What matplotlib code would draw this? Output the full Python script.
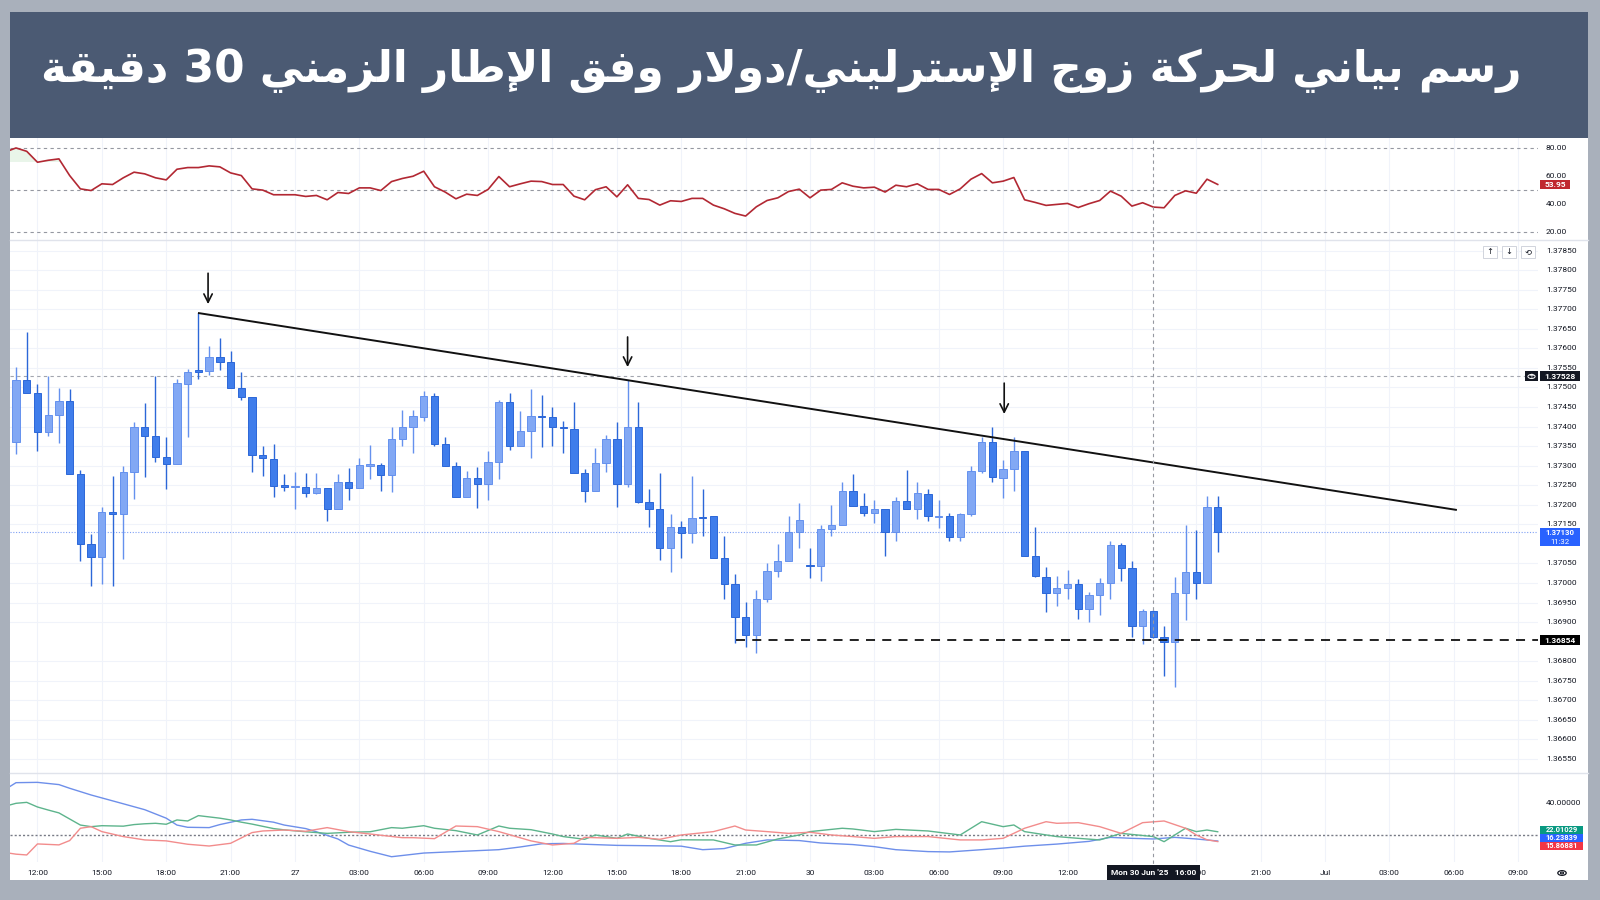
import re
import numpy as np
import matplotlib
matplotlib.use("Agg")
import matplotlib.pyplot as plt
from matplotlib.patches import Rectangle, Circle
from matplotlib.lines import Line2D

plt.rcParams['font.family'] = ['Roboto', 'DejaVu Sans']

# ---------------- data ----------------
TITLE = "رسم بياني لحركة زوج الإسترليني/دولار وفق الإطار الزمني 30 دقيقة"

opens = [1.37360, 1.37519, 1.37487, 1.37385, 1.37430, 1.37466, 1.37278, 1.37099, 1.37067, 1.37182,
         1.37177, 1.37285, 1.37400, 1.37377, 1.37321, 1.37304, 1.37510, 1.37544, 1.37542, 1.37579,
         1.37566, 1.37499, 1.37476, 1.37326, 1.37317, 1.37250, 1.37245, 1.37246, 1.37229, 1.37244,
         1.37189, 1.37257, 1.37244, 1.37300, 1.37302, 1.37276, 1.37367, 1.37399, 1.37425, 1.37478,
         1.37355, 1.37299, 1.37221, 1.37268, 1.37252, 1.37310, 1.37464, 1.37349, 1.37389, 1.37428,
         1.37425, 1.37398, 1.37394, 1.37282, 1.37234, 1.37308, 1.37367, 1.37253, 1.37400, 1.37206,
         1.37190, 1.37090, 1.37144, 1.37129, 1.37168, 1.37170, 1.37065, 1.36998, 1.36914, 1.36866,
         1.36958, 1.37031, 1.37057, 1.37130, 1.37047, 1.37044, 1.37138, 1.37148, 1.37235, 1.37198,
         1.37178, 1.37189, 1.37131, 1.37210, 1.37190, 1.37228, 1.37169, 1.37170, 1.37117, 1.37176,
         1.37287, 1.37361, 1.37269, 1.37292, 1.37338, 1.37069, 1.37016, 1.36975, 1.36986, 1.36997,
         1.36934, 1.36969, 1.37001, 1.37097, 1.37039, 1.36891, 1.36927, 1.36861, 1.36849, 1.36974,
         1.37029, 1.36999, 1.37193]
highs = [1.37553, 1.37641, 1.37508, 1.37528, 1.37498, 1.37496, 1.37289, 1.37125, 1.37195, 1.37274,
         1.37300, 1.37411, 1.37459, 1.37528, 1.37372, 1.37521, 1.37547, 1.37691, 1.37607, 1.37626,
         1.37594, 1.37539, 1.37476, 1.37349, 1.37355, 1.37278, 1.37283, 1.37280, 1.37280, 1.37244,
         1.37278, 1.37295, 1.37320, 1.37353, 1.37306, 1.37400, 1.37442, 1.37441, 1.37492, 1.37487,
         1.37372, 1.37309, 1.37286, 1.37296, 1.37338, 1.37468, 1.37487, 1.37440, 1.37496, 1.37481,
         1.37451, 1.37414, 1.37462, 1.37292, 1.37344, 1.37378, 1.37411, 1.37519, 1.37462, 1.37241,
         1.37281, 1.37176, 1.37159, 1.37274, 1.37240, 1.37170, 1.37119, 1.37022, 1.36951, 1.36982,
         1.37052, 1.37100, 1.37170, 1.37204, 1.37090, 1.37147, 1.37199, 1.37257, 1.37278, 1.37229,
         1.37212, 1.37189, 1.37221, 1.37289, 1.37259, 1.37240, 1.37211, 1.37180, 1.37180, 1.37298,
         1.37374, 1.37398, 1.37315, 1.37372, 1.37338, 1.37142, 1.37042, 1.37018, 1.37032, 1.37010,
         1.36978, 1.37012, 1.37108, 1.37102, 1.37057, 1.36933, 1.36931, 1.36889, 1.37016, 1.37147,
         1.37136, 1.37223, 1.37223]
lows = [1.37330, 1.37485, 1.37338, 1.37377, 1.37359, 1.37278, 1.37057, 1.36991, 1.36998, 1.36991,
        1.37061, 1.37214, 1.37272, 1.37309, 1.37240, 1.37304, 1.37372, 1.37521, 1.37533, 1.37545,
        1.37499, 1.37468, 1.37285, 1.37274, 1.37221, 1.37234, 1.37189, 1.37221, 1.37228, 1.37159,
        1.37189, 1.37212, 1.37244, 1.37265, 1.37234, 1.37232, 1.37350, 1.37333, 1.37415, 1.37349,
        1.37299, 1.37221, 1.37221, 1.37191, 1.37212, 1.37265, 1.37340, 1.37349, 1.37319, 1.37347,
        1.37350, 1.37333, 1.37282, 1.37206, 1.37234, 1.37285, 1.37195, 1.37246, 1.37204, 1.37143,
        1.37059, 1.37027, 1.37063, 1.37102, 1.37121, 1.37065, 1.36958, 1.36846, 1.36837, 1.36822,
        1.36952, 1.37015, 1.37055, 1.37089, 1.37012, 1.37005, 1.37119, 1.37148, 1.37198, 1.37170,
        1.37154, 1.37070, 1.37107, 1.37189, 1.37163, 1.37159, 1.37140, 1.37106, 1.37107, 1.37171,
        1.37282, 1.37259, 1.37217, 1.37236, 1.37069, 1.37014, 1.36925, 1.36942, 1.36959, 1.36908,
        1.36900, 1.36917, 1.36958, 1.37005, 1.36863, 1.36843, 1.36859, 1.36762, 1.36734, 1.36906,
        1.36958, 1.36999, 1.37080]
closes = [1.37519, 1.37487, 1.37385, 1.37430, 1.37466, 1.37278, 1.37099, 1.37067, 1.37182, 1.37177,
          1.37285, 1.37400, 1.37377, 1.37321, 1.37304, 1.37512, 1.37539, 1.37540, 1.37579, 1.37566,
          1.37499, 1.37476, 1.37326, 1.37319, 1.37249, 1.37246, 1.37247, 1.37231, 1.37244, 1.37189,
          1.37257, 1.37244, 1.37302, 1.37303, 1.37276, 1.37367, 1.37399, 1.37427, 1.37478, 1.37355,
          1.37299, 1.37221, 1.37268, 1.37252, 1.37310, 1.37464, 1.37349, 1.37389, 1.37427, 1.37425,
          1.37398, 1.37395, 1.37282, 1.37234, 1.37308, 1.37367, 1.37253, 1.37400, 1.37206, 1.37190,
          1.37090, 1.37144, 1.37129, 1.37166, 1.37166, 1.37065, 1.36998, 1.36914, 1.36866, 1.36958,
          1.37031, 1.37056, 1.37130, 1.37161, 1.37044, 1.37138, 1.37147, 1.37235, 1.37198, 1.37178,
          1.37189, 1.37131, 1.37210, 1.37189, 1.37229, 1.37170, 1.37171, 1.37117, 1.37177, 1.37287,
          1.37361, 1.37270, 1.37292, 1.37338, 1.37069, 1.37018, 1.36975, 1.36986, 1.36998, 1.36934,
          1.36970, 1.37001, 1.37097, 1.37039, 1.36891, 1.36927, 1.36861, 1.36849, 1.36974, 1.37029,
          1.36999, 1.37193, 1.37130]

# RSI, starting one bar before the first visible candle
rsi = [77.1,
       80.0, 77.6, 69.8, 71.2, 72.2, 60.3, 50.8, 49.6, 54.4, 53.9,
       58.7, 62.7, 61.5, 58.7, 57.2, 64.8, 66.0, 66.0, 67.2, 66.5,
       62.2, 60.3, 50.8, 49.9, 46.6, 46.6, 46.6, 45.4, 46.1, 43.0,
       48.2, 47.5, 51.5, 51.5, 49.6, 56.0, 58.2, 59.8, 63.4, 52.3,
       48.5, 43.7, 47.0, 46.1, 50.4, 59.6, 52.3, 54.4, 56.3, 56.0,
       53.9, 53.9, 45.6, 43.0, 50.2, 52.3, 45.1, 53.7, 44.0, 43.2,
       39.2, 42.3, 41.8, 44.0, 44.0, 39.2, 36.6, 33.3, 31.4, 38.0,
       42.5, 44.4, 48.9, 50.6, 44.4, 49.9, 50.4, 55.1, 52.7, 51.5,
       52.0, 48.5, 53.4, 52.3, 54.4, 50.4, 50.4, 46.8, 50.8, 57.7,
       61.7, 55.1, 56.3, 58.9, 43.0, 41.1, 39.0, 39.7, 40.4, 37.5,
       40.2, 42.5, 49.2, 45.6, 38.5, 40.9, 37.8, 37.3, 46.1, 49.4,
       47.7, 57.7, 53.95]

# DMI / ADX lines (bar index, value)
blue_x = [-1, 0, 2, 4, 5, 7, 10, 12, 14, 15, 16, 18, 19, 21, 22, 24, 25, 27, 28, 30,
          31, 33, 35, 38, 41, 45, 47, 49, 51, 53, 56, 60, 62, 64, 66, 68, 70, 73, 75, 78,
          80, 82, 85, 87, 90, 92, 94, 97, 100, 102, 104, 106, 108, 110, 112]
blue_y = [48.5, 52.7, 52.9, 51.5, 49.2, 45.0, 39.5, 35.8, 30.5, 26.2, 24.8, 24.6, 26.5, 29.4, 29.8, 28.0, 26.2, 24.0, 22.0, 17.5,
          13.7, 9.8, 6.4, 8.7, 9.6, 10.8, 12.5, 14.5, 14.7, 14.2, 13.5, 13.2, 13.0, 10.8, 11.5, 14.8, 16.9, 16.5, 15.0, 14.0,
          12.7, 10.8, 9.6, 9.4, 10.8, 11.8, 13.0, 14.3, 16.0, 18.5, 17.9, 17.5, 18.5, 17.5, 16.23839]
red_x = [-1, 0, 1, 2, 4, 5, 6, 7, 8, 10, 12, 14, 16, 18, 20, 22, 23, 25, 27, 29,
         31, 33, 36, 37, 39, 41, 43, 45, 48, 50, 52, 53, 56, 58, 60, 62, 65, 67, 68, 70,
         72, 74, 76, 78, 80, 82, 85, 88, 90, 92, 94, 96, 97, 99, 101, 103, 105, 107, 109, 110,
         111, 112]
red_y = [9.0, 8.0, 7.5, 14.4, 13.8, 16.5, 24.2, 25.2, 22.1, 19.0, 16.9, 16.3, 14.2, 13.1, 14.8, 21.5, 22.5, 23.1, 22.3, 24.6,
         22.1, 20.6, 18.3, 18.3, 17.7, 25.6, 25.2, 22.1, 16.3, 13.75, 14.8, 18.5, 17.9, 18.5, 17.3, 20.0, 22.1, 25.6, 23.1, 22.1,
         21.0, 21.7, 20.0, 19.0, 17.9, 19.0, 19.0, 16.9, 16.9, 17.9, 24.2, 28.3, 27.3, 27.7, 25.2, 21.0, 27.7, 28.75, 24.2, 20.0,
         17.0, 15.86881]
green_x = [-1, 0, 1, 2, 3, 4, 5, 6, 7, 8, 10, 11, 12, 13, 14, 15, 16, 17, 18, 19,
           20, 21, 22, 24, 25, 27, 29, 31, 33, 35, 36, 38, 39, 41, 43, 45, 46, 48, 50, 51,
           53, 54, 56, 57, 59, 61, 62, 64, 65, 67, 69, 71, 73, 74, 77, 78, 80, 82, 85, 88,
           90, 92, 93, 94, 97, 99, 101, 103, 106, 107, 109, 110, 111, 112]
green_y = [38.0, 39.8, 40.4, 37.5, 35.6, 33.8, 30.0, 26.2, 25.2, 25.8, 25.5, 26.5, 27.0, 27.3, 26.7, 29.4, 28.75, 32.1, 31.3, 30.5,
           29.4, 28.0, 26.8, 24.0, 23.2, 22.0, 21.0, 21.7, 22.0, 24.6, 24.2, 25.8, 24.2, 22.7, 20.0, 25.6, 24.2, 23.3, 20.6, 19.0,
           17.3, 20.0, 17.9, 20.6, 17.9, 15.8, 17.0, 16.9, 16.9, 13.75, 13.75, 17.5, 20.0, 22.1, 24.2, 23.75, 22.1, 23.5, 22.5, 20.0,
           28.3, 25.2, 26.25, 22.1, 19.0, 17.9, 16.9, 21.0, 19.0, 15.8, 24.2, 22.1, 23.1, 22.01029]

# time-axis labels visible in the reference (15:00 on the 30th sits under the crosshair tag)
time_tick_idx = [2, 8, 14, 20, 26, 32, 38, 44, 50, 56, 62, 68, 74, 80, 86, 92, 98, 110, 116, 122, 128, 134, 140]
time_tick_lbl = ['12:00', '15:00', '18:00', '21:00', '27', '03:00', '06:00', '09:00', '12:00', '15:00', '18:00',
                 '21:00', '30', '03:00', '06:00', '09:00', '12:00', '18:00', '21:00', 'Jul', '03:00',
                 '06:00', '09:00']
grid_idx = [2, 8, 14, 20, 26, 32, 38, 44, 50, 56, 62, 68, 74, 80, 86, 92, 98, 104, 110, 116, 122, 128, 134, 140]
price_ticks = [1.37850, 1.37800, 1.37750, 1.37700, 1.37650, 1.37600, 1.37550, 1.37500, 1.37450, 1.37400,
               1.37350, 1.37300, 1.37250, 1.37200, 1.37150, 1.37050, 1.37000, 1.36950, 1.36900,
               1.36800, 1.36750, 1.36700, 1.36650, 1.36600, 1.36550]
rsi_ticks = [80, 60, 40, 20]
rsi_levels = [80, 50, 20]

trend_x = [17.05, 134.2]
trend_y = [1.37690, 1.37187]
arrow_x = [17.9, 57.0, 92.1]
arrow_top = [1.37792, 1.37629, 1.37511]
arrow_tip = [1.37713, 1.37552, 1.37432]
support_level = 1.36854
support_start = 67.1
resist_level = 1.37528
last_price = 1.37130
last_time_left = "11:32"
crosshair_idx = 106
crosshair_lbl = "Mon 30 Jun '25   16:00"
rsi_last = 53.95
adx_labels = [(22.01029, '#089981'), (16.23839, '#2962FF'), (15.86881, '#F23645')]

# ---------------- helpers ----------------
W, H = 1600, 900
fig = plt.figure(figsize=(16, 9), dpi=100, facecolor='#A9B0BB')


def rect(x0, y0, x1, y1):
    return [x0 / W, 1 - y1 / H, (x1 - x0) / W, (y1 - y0) / H]


def fig_rect(x0, y0, x1, y1, **kw):
    r = Rectangle((x0 / W, 1 - y1 / H), (x1 - x0) / W, (y1 - y0) / H,
                  transform=fig.transFigure, **kw)
    fig.add_artist(r)
    return r


def fig_text(x, y, s, **kw):
    return fig.text(x / W, 1 - y / H, s, **kw)


def fig_line(xs, ys, **kw):
    l = Line2D([x / W for x in xs], [1 - y / H for y in ys], transform=fig.transFigure, **kw)
    fig.add_artist(l)
    return l


def ypix(axis, v):
    return H - axis.transData.transform((0, v))[1]


def xpix(axis, v):
    return axis.transData.transform((v, 0))[0]


# Arabic shaping (contextual forms) so the title renders in joined script
FORMS = {
    '\u0627': ('\uFE8D', '\uFE8E', None, None), '\u0625': ('\uFE87', '\uFE88', None, None),
    '\u0628': ('\uFE8F', '\uFE90', '\uFE91', '\uFE92'), '\u0629': ('\uFE93', '\uFE94', None, None),
    '\u062A': ('\uFE95', '\uFE96', '\uFE97', '\uFE98'), '\u062C': ('\uFE9D', '\uFE9E', '\uFE9F', '\uFEA0'),
    '\u062D': ('\uFEA1', '\uFEA2', '\uFEA3', '\uFEA4'), '\u062F': ('\uFEA9', '\uFEAA', None, None),
    '\u0631': ('\uFEAD', '\uFEAE', None, None), '\u0632': ('\uFEAF', '\uFEB0', None, None),
    '\u0633': ('\uFEB1', '\uFEB2', '\uFEB3', '\uFEB4'), '\u0637': ('\uFEC1', '\uFEC2', '\uFEC3', '\uFEC4'),
    '\u0641': ('\uFED1', '\uFED2', '\uFED3', '\uFED4'), '\u0642': ('\uFED5', '\uFED6', '\uFED7', '\uFED8'),
    '\u0643': ('\uFED9', '\uFEDA', '\uFEDB', '\uFEDC'), '\u0644': ('\uFEDD', '\uFEDE', '\uFEDF', '\uFEE0'),
    '\u0645': ('\uFEE1', '\uFEE2', '\uFEE3', '\uFEE4'), '\u0646': ('\uFEE5', '\uFEE6', '\uFEE7', '\uFEE8'),
    '\u0648': ('\uFEED', '\uFEEE', None, None), '\u064A': ('\uFEF1', '\uFEF2', '\uFEF3', '\uFEF4'),
    'LA': ('\uFEFB', '\uFEFC', None, None), 'LAH': ('\uFEF9', '\uFEFA', None, None),
}


def shape_arabic(text):
    units, i = [], 0
    while i < len(text):
        c = text[i]
        if c == '\u0644' and i + 1 < len(text) and text[i + 1] in ('\u0627', '\u0625'):
            units.append('LA' if text[i + 1] == '\u0627' else 'LAH')
            i += 2
        else:
            units.append(c)
            i += 1
    out = []
    for k, u in enumerate(units):
        if u not in FORMS:
            out.append(u)
            continue
        iso, fin, ini, med = FORMS[u]
        prev = units[k - 1] if k > 0 else None
        nxt = units[k + 1] if k + 1 < len(units) else None
        jp = prev in FORMS and FORMS[prev][2] is not None
        jn = ini is not None and nxt in FORMS
        out.append(med if (jp and jn) else fin if jp else ini if jn else iso)
    vis = ''.join(out)[::-1]
    return re.sub(r'[0-9]+', lambda m: m.group(0)[::-1], vis)


# ---------------- frame ----------------
fig_rect(10, 12, 1588, 880, facecolor='white', edgecolor='none', zorder=-5)
fig_rect(10, 12, 1588, 138, facecolor='#4B5A73', edgecolor='none', zorder=-4)
fig_text(781, 71, shape_arabic(TITLE), color='white', fontsize=31.5, ha='center', va='center',
         family=['DejaVu Sans'], weight='bold')

XL = (-0.56, 141.85)
ax_rsi = fig.add_axes(rect(10, 138, 1538, 240))
ax = fig.add_axes(rect(10, 240, 1538, 773))
ax_adx = fig.add_axes(rect(10, 773, 1538, 862))
for a in (ax_rsi, ax, ax_adx):
    a.set_xlim(*XL)
    a.set_facecolor('none')
    for s in a.spines.values():
        s.set_visible(False)
    a.set_xticks([])
    a.set_yticks([])
    for t in grid_idx:
        a.axvline(t, color='#F0F3FA', lw=0.8, zorder=0)
ax_rsi.set_ylim(14.3, 87.1)
ax.set_ylim(1.36514, 1.37877)
ax_adx.set_ylim(3.1, 58.75)

fig_line([10, 1588], [240, 240], color='#E0E3EB', lw=1.0)
fig_line([10, 1588], [773, 773], color='#E0E3EB', lw=1.0)

LBL = dict(fontsize=6, color='#131722', va='center', ha='left')

# ---------------- RSI ----------------
rx = np.arange(-1, len(rsi) - 1)
rv = np.array(rsi)
for lv in rsi_levels:
    ax_rsi.axhline(lv, color='#9598A1', lw=0.8, ls=(0, (3, 3)), zorder=1)
ax_rsi.fill_between(rx, rv, 70, where=rv > 70, interpolate=True, color='#4CAF50', alpha=0.12, lw=0)
ax_rsi.plot(rx, rv, color='#B22833', lw=1.2, zorder=3)
for t in rsi_ticks:
    fig_text(1546, ypix(ax_rsi, t), f"{t:.2f}", **LBL)
yy = ypix(ax_rsi, rsi_last)
fig_rect(1540, yy - 4.5, 1570, yy + 4.5, facecolor='#C0282F', edgecolor='none', zorder=3)
fig_text(1555, yy, f"{rsi_last:.2f}", fontsize=6, color='white', ha='center', va='center', weight='bold',
         zorder=4)

# ---------------- main candles ----------------
O, Hh, L, C = map(np.array, (opens, highs, lows, closes))
x = np.arange(len(O))
up = C >= O
bot = np.minimum(O, C)
bh = np.maximum(np.abs(C - O), 1.6e-5)
UP_FILL, UP_EDGE = '#82A8F4', '#6591EE'
DN_FILL, DN_EDGE = '#3F7DEB', '#2C67D8'
for p in price_ticks:
    ax.axhline(p, color='#F0F3FA', lw=0.8, zorder=0)
ax.vlines(x[up], L[up], Hh[up], color=UP_EDGE, lw=1.0, zorder=2)
ax.vlines(x[~up], L[~up], Hh[~up], color=DN_EDGE, lw=1.0, zorder=2)
ax.bar(x[up], bh[up], bottom=bot[up], width=0.68, color=UP_FILL, edgecolor=UP_EDGE, lw=0.7, zorder=3)
ax.bar(x[~up], bh[~up], bottom=bot[~up], width=0.68, color=DN_FILL, edgecolor=DN_EDGE, lw=0.7, zorder=3)

ax.axhline(resist_level, color='#A3A6AF', lw=0.8, ls=(0, (3, 3)), zorder=1)
ax.axhline(last_price, color='#7FA0F5', lw=0.8, ls=(0, (1, 1.5)), zorder=1)
ax.plot(trend_x, trend_y, color='#111111', lw=1.4, zorder=4)
ax.plot([support_start, XL[1]], [support_level, support_level], color='#111111', lw=1.3,
        ls=(0, (5, 4)), zorder=4)
for ax_i, top, tip in zip(arrow_x, arrow_top, arrow_tip):
    ax.annotate('', xy=(ax_i, tip), xytext=(ax_i, top),
                arrowprops=dict(arrowstyle='->,head_length=0.6,head_width=0.3', color='#111111',
                                lw=1.2, shrinkA=0, shrinkB=0), zorder=5)

for p in price_ticks:
    fig_text(1546, ypix(ax, p), f"{p:.5f}", **LBL)

# price-axis tags
yy = ypix(ax, resist_level)
fig_rect(1540, yy - 5, 1580, yy + 5, facecolor='#131722', edgecolor='none', zorder=3)
fig_text(1560, yy, f"{resist_level:.5f}", fontsize=6, color='white', ha='center', va='center',
         weight='bold', zorder=4)
fig_rect(1525, yy - 5, 1538, yy + 5, facecolor='#131722', edgecolor='none', zorder=3)
fig.add_artist(Circle((1531.5 / W, 1 - yy / H), 3.6 / W, transform=fig.transFigure, fill=False,
                      ec='white', lw=0.7, zorder=4))
fig_text(1531.5, yy, '+', fontsize=5, color='white', ha='center', va='center', zorder=5,
         family=['DejaVu Sans'])

yy = ypix(ax, last_price)
fig_rect(1540, yy - 4.5, 1580, yy + 14, facecolor='#2962FF', edgecolor='none', zorder=3)
fig_text(1560, yy + 0.5, f"{last_price:.5f}", fontsize=5.6, color='white', ha='center', va='center',
         weight='bold', zorder=4)
fig_text(1560, yy + 9.5, last_time_left, fontsize=5.6, color='white', ha='center', va='center', zorder=4)

yy = ypix(ax, support_level)
fig_rect(1540, yy - 5, 1580, yy + 5, facecolor='#000000', edgecolor='none', zorder=3)
fig_text(1560, yy, f"{support_level:.5f}", fontsize=6, color='white', ha='center', va='center',
         weight='bold', zorder=4)

# small toolbar buttons
for bx, sym in zip((1490, 1509, 1528), ('↑', '↓', '⟲')):
    fig_rect(bx - 7, 246, bx + 7, 258, facecolor='white', edgecolor='#D1D4DC', lw=0.7)
    fig_text(bx, 252, sym, fontsize=6, color='#131722', ha='center', va='center', family=['DejaVu Sans'])

# ---------------- ADX / DMI ----------------
ax_adx.axhline(20, color='#787B86', lw=1.0, ls=(0, (1.5, 1.5)), zorder=1)
ax_adx.plot(blue_x, blue_y, color='#6E8FEA', lw=1.0, zorder=3)
ax_adx.plot(green_x, green_y, color='#5DB48C', lw=1.0, zorder=3)
ax_adx.plot(red_x, red_y, color='#F28C8C', lw=1.0, zorder=3)
fig_text(1546, ypix(ax_adx, 40), "40.00000", **LBL)
y0 = ypix(ax_adx, adx_labels[0][0]) - 1.5
for k, (v, col) in enumerate(adx_labels):
    yc = y0 + k * 7.8
    fig_rect(1540, yc - 3.9, 1583, yc + 3.9, facecolor=col, edgecolor='none', zorder=3)
    fig_text(1561.5, yc, f"{v:.5f}", fontsize=5.4, color='white', ha='center', va='center',
             weight='bold', zorder=4)

# ---------------- crosshair ----------------
cx = xpix(ax, crosshair_idx)
fig_line([cx, cx], [140, 865], color='#9598A1', lw=0.8, ls=(0, (3, 3)), zorder=2)

# ---------------- time axis ----------------
for t, s in zip(time_tick_idx, time_tick_lbl):
    fig_text(xpix(ax, t), 873, s, fontsize=6, color='#131722', ha='center', va='center')
fig_rect(cx - 46, 865, cx + 47, 880, facecolor='#131722', edgecolor='none', zorder=5)
fig_text(cx, 872.5, crosshair_lbl, fontsize=6, color='white', ha='center', va='center', zorder=6,
         weight='bold')
fig.add_artist(Circle((1562 / W, 1 - 873 / H), 4.2 / W, transform=fig.transFigure, fill=False,
                      ec='#131722', lw=0.9))
fig.add_artist(Circle((1562 / W, 1 - 873 / H), 1.6 / W, transform=fig.transFigure, fill=False,
                      ec='#131722', lw=0.8))

fig.savefig('out.png', dpi=100, facecolor=fig.get_facecolor())
